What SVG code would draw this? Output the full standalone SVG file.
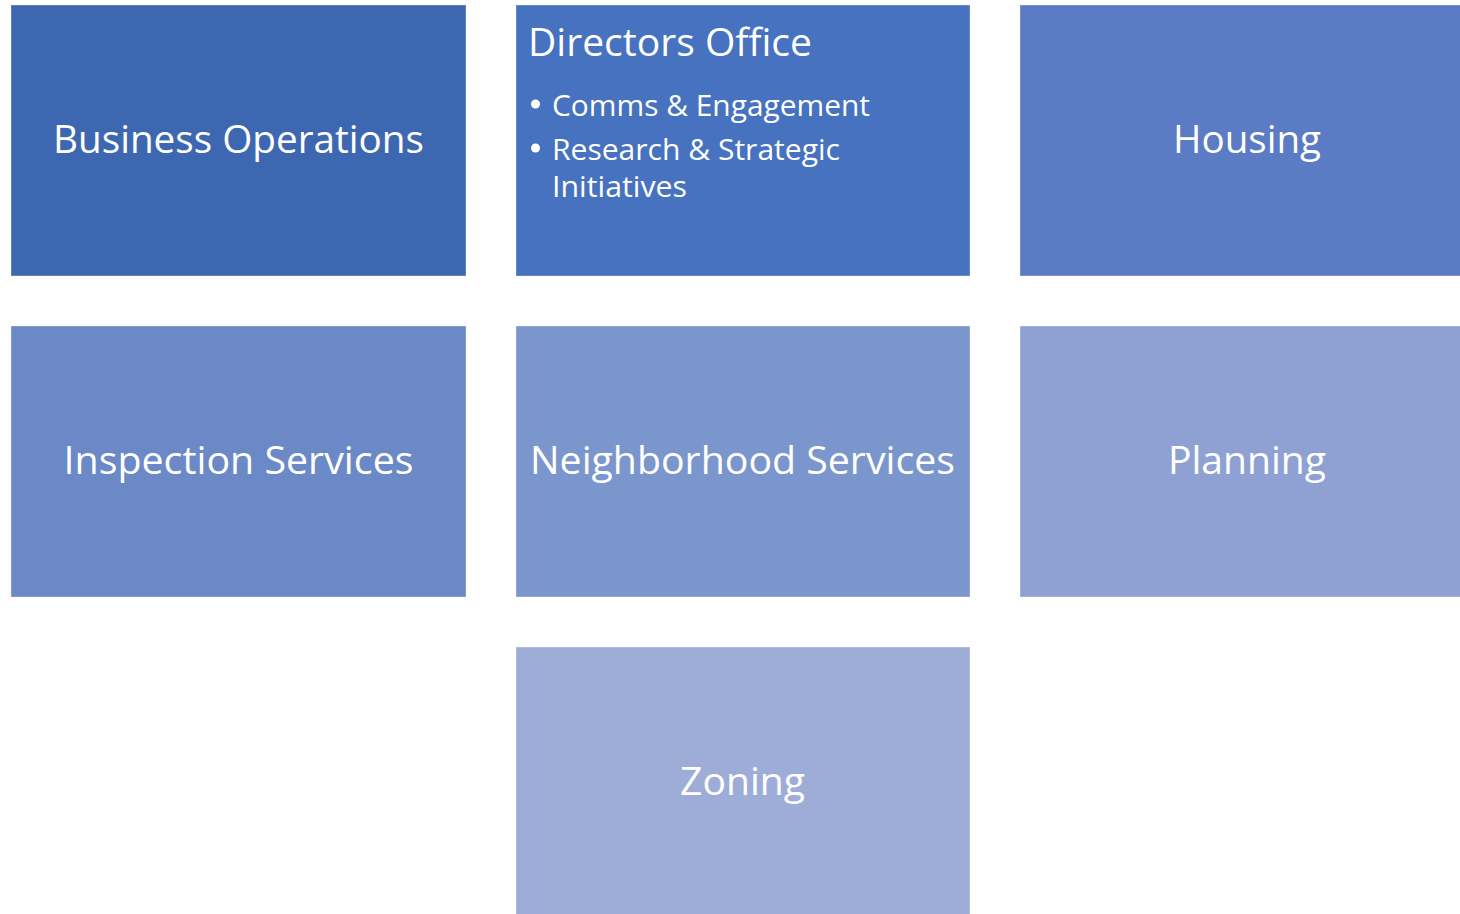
<svg xmlns="http://www.w3.org/2000/svg" width="1460" height="914" viewBox="0 0 1460 914">
<style>
.box{stroke:#ffffff;stroke-opacity:0.35;stroke-width:1}
.t{font-family:"Open Sans","Noto Sans","DejaVu Sans",sans-serif;fill:#ffffff;font-size:39px}
.c{text-anchor:middle}
.b{font-family:"Open Sans","Noto Sans","DejaVu Sans",sans-serif;fill:#ffffff;font-size:30px}
</style>
<rect width="1460" height="914" fill="#ffffff"/>
<g id="connectors"/>
<g id="business-operations">
<rect class="box" x="11" y="5" width="455" height="271" fill="#3E67B1"/>
<text class="t c" x="238.5" y="153" textLength="371" lengthAdjust="spacingAndGlyphs">Business Operations</text>
</g>
<g id="directors-office">
<rect class="box" x="516" y="5" width="454" height="271" fill="#4672BF"/>
<text class="t" x="528" y="56" textLength="284" lengthAdjust="spacingAndGlyphs">Directors Office</text>
<circle cx="535.5" cy="104" r="4.5" fill="#ffffff"/>
<text class="b" x="552" y="116" textLength="318" lengthAdjust="spacingAndGlyphs">Comms &amp; Engagement</text>
<circle cx="535.5" cy="148" r="4.5" fill="#ffffff"/>
<text class="b" x="552" y="160" textLength="288" lengthAdjust="spacingAndGlyphs">Research &amp; Strategic</text>
<text class="b" x="552" y="197" textLength="135" lengthAdjust="spacingAndGlyphs">Initiatives</text>
</g>
<g id="housing">
<rect class="box" x="1020" y="5" width="455" height="271" fill="#5B7BC4"/>
<text class="t c" x="1247" y="153" textLength="148" lengthAdjust="spacingAndGlyphs">Housing</text>
</g>
<g id="inspection-services">
<rect class="box" x="11" y="326" width="455" height="271" fill="#6B88C7"/>
<text class="t c" x="238.5" y="474" textLength="350" lengthAdjust="spacingAndGlyphs">Inspection Services</text>
</g>
<g id="neighborhood-services">
<rect class="box" x="516" y="326" width="454" height="271" fill="#7B95CD"/>
<text class="t c" x="742.5" y="474" textLength="425" lengthAdjust="spacingAndGlyphs">Neighborhood Services</text>
</g>
<g id="planning">
<rect class="box" x="1020" y="326" width="455" height="271" fill="#8EA1D2"/>
<text class="t c" x="1247" y="474" textLength="158" lengthAdjust="spacingAndGlyphs">Planning</text>
</g>
<g id="zoning">
<rect class="box" x="516" y="647" width="454" height="280" fill="#9EADD7"/>
<text class="t c" x="742.5" y="795" textLength="125" lengthAdjust="spacingAndGlyphs">Zoning</text>
</g>
</svg>
